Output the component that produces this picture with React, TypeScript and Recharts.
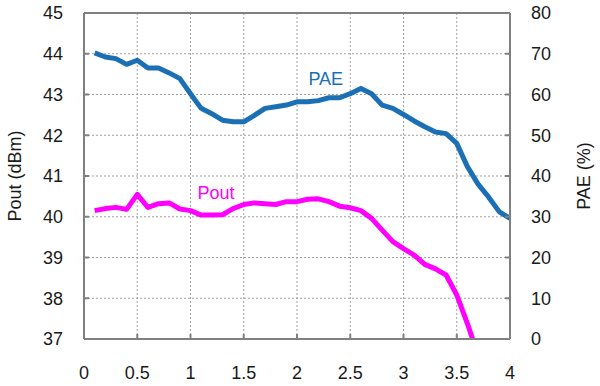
import React from 'react'
import { LineChart, Line, XAxis, YAxis, ReferenceDot } from 'recharts'

// input power steps (x axis)
const xValues = [
  0.1, 0.2, 0.3, 0.4, 0.5, 0.6, 0.7, 0.8, 0.9, 1.0,
  1.1, 1.2, 1.3, 1.4, 1.5, 1.6, 1.7, 1.8, 1.9, 2.0,
  2.1, 2.2, 2.3, 2.4, 2.5, 2.6, 2.7, 2.8, 2.9, 3.0,
  3.1, 3.2, 3.3, 3.4, 3.5, 3.6, 3.7, 3.8, 3.9, 4.0,
]

const poutValues = [
  40.15, 40.2, 40.23, 40.18, 40.55, 40.23, 40.32, 40.34, 40.19, 40.15,
  40.04, 40.04, 40.05, 40.2, 40.3, 40.34, 40.32, 40.3, 40.37, 40.37,
  40.43, 40.44, 40.37, 40.26, 40.22, 40.15, 39.96, 39.67, 39.39, 39.22,
  39.06, 38.83, 38.72, 38.57, 38.08, 37.38, 36.6,
]

const paeValues = [
  70.2, 69.2, 68.8, 67.4, 68.4, 66.5, 66.5, 65.3, 63.9, 60.2,
  56.6, 55.3, 53.7, 53.3, 53.3, 54.9, 56.6, 57.0, 57.4, 58.2,
  58.2, 58.5, 59.2, 59.2, 60.2, 61.5, 60.2, 57.4, 56.6, 55.1,
  53.5, 52.1, 50.8, 50.4, 48.0, 42.3, 38.0, 34.8, 31.2, 29.6,
]

const xTicks = [0, 0.5, 1, 1.5, 2, 2.5, 3, 3.5, 4]
const poutTicks = [37, 38, 39, 40, 41, 42, 43, 44, 45]
const paeTicks = [0, 10, 20, 30, 40, 50, 60, 70, 80]

const data = xValues.map((x, i) => ({
  x,
  pout: poutValues[i],
  pae: paeValues[i],
}))

const FONT = '"Liberation Sans", Arial, sans-serif'
const AXIS = '#808080'
const GRID = '#a0a0a0'
const BLUE = '#1a6fb5'
const MAGENTA = '#ff00ff'
const TEXT = '#1a1a1a'

// layout
const W = 600
const H = 386
const TOP = 13
const LEFT_W = 84
const RIGHT_W = 90
const BOTTOM_H = 47
const PLOT_W = W - LEFT_W - RIGHT_W
const PLOT_H = H - TOP - BOTTOM_H
const GAP = 21

// grid positions (plot frame is fixed, domains are [0,4] and [37,45])
const gridX = (v: number) => LEFT_W + (v - xTicks[0]) / (xTicks[xTicks.length - 1] - xTicks[0]) * PLOT_W
const gridY = (v: number) => TOP + (poutTicks[poutTicks.length - 1] - v) / (poutTicks[poutTicks.length - 1] - poutTicks[0]) * PLOT_H

const XTick = (props: any) => {
  const { x, y, payload } = props
  const axisY = y - GAP
  return (
    <g>
      <path d={`M${x},${axisY}V${axisY - 5}`} stroke={AXIS} strokeWidth={2} fill="none" />
      <text x={x} y={axisY + 27} dy="0.71em" textAnchor="middle" fill={TEXT} fontSize={18} fontFamily={FONT}>
        {payload.value}
      </text>
    </g>
  )
}

const LeftTick = (props: any) => {
  const { x, y, payload } = props
  const axisX = x + GAP
  return (
    <g>
      <path d={`M${axisX},${y}H${axisX + 5}`} stroke={AXIS} strokeWidth={2} fill="none" />
      <text x={x} y={y} dy="0.355em" textAnchor="end" fill={TEXT} fontSize={18} fontFamily={FONT}>
        {payload.value}
      </text>
    </g>
  )
}

const RightTick = (props: any) => {
  const { x, y, payload } = props
  const axisX = x - GAP
  return (
    <g>
      <path d={`M${axisX},${y}H${axisX - 5}`} stroke={AXIS} strokeWidth={2} fill="none" />
      <text x={x} y={y} dy="0.355em" textAnchor="start" fill={TEXT} fontSize={18} fontFamily={FONT}>
        {payload.value}
      </text>
    </g>
  )
}

const App = () => {
  return (
    <div style={{ position: 'absolute', left: 0, top: 0, width: W, height: H, background: '#fff' }}>
      <LineChart width={W} height={H} data={data} margin={{ top: TOP, right: 0, left: 0, bottom: 0 }}>
        <g className="grid">
          {xTicks.slice(1, -1).map(t => (
            <line key={'gx' + t} x1={gridX(t)} x2={gridX(t)} y1={TOP} y2={TOP + PLOT_H}
              stroke={GRID} strokeWidth={1} strokeDasharray="2 2" />
          ))}
          {poutTicks.slice(1, -1).map(t => (
            <line key={'gy' + t} x1={LEFT_W} x2={LEFT_W + PLOT_W} y1={gridY(t)} y2={gridY(t)}
              stroke={GRID} strokeWidth={1} strokeDasharray="2 2" />
          ))}
          <line x1={LEFT_W} x2={LEFT_W + PLOT_W} y1={TOP} y2={TOP} stroke={AXIS} strokeWidth={2} />
        </g>
        <XAxis
          dataKey="x"
          type="number"
          domain={[0, 4]}
          ticks={xTicks}
          height={BOTTOM_H}
          stroke={AXIS}
          strokeWidth={2}
          tickLine={false}
          tickSize={0}
          tickMargin={GAP}
          tick={XTick}
          interval={0}
        />
        <YAxis
          yAxisId="left"
          orientation="left"
          domain={[37, 45]}
          ticks={poutTicks}
          allowDataOverflow
          width={LEFT_W}
          stroke={AXIS}
          strokeWidth={2}
          tickLine={false}
          tickSize={0}
          tickMargin={GAP}
          tick={LeftTick}
          interval={0}
        />
        <YAxis
          yAxisId="right"
          orientation="right"
          domain={[0, 80]}
          ticks={paeTicks}
          allowDataOverflow
          width={RIGHT_W}
          stroke={AXIS}
          strokeWidth={2}
          tickLine={false}
          tickSize={0}
          tickMargin={GAP}
          tick={RightTick}
          interval={0}
        />

        <Line
          yAxisId="right"
          type="linear"
          dataKey="pae"
          stroke={BLUE}
          strokeWidth={5}
          strokeLinejoin="round"
          dot={false}
          isAnimationActive={false}
        />
        <Line
          yAxisId="left"
          type="linear"
          dataKey="pout"
          stroke={MAGENTA}
          strokeWidth={5}
          strokeLinejoin="round"
          dot={false}
          isAnimationActive={false}
        />

        <ReferenceDot
          yAxisId="right"
          x={2.27}
          y={64}
          r={0}
          label={{ value: 'PAE', position: 'center', fill: BLUE, fontSize: 18, fontFamily: FONT }}
        />
        <ReferenceDot
          yAxisId="left"
          x={1.24}
          y={40.6}
          r={0}
          label={{ value: 'Pout', position: 'center', fill: MAGENTA, fontSize: 18, fontFamily: FONT }}
        />

        <text x={15} y={176} transform="rotate(-90 15 176)" textAnchor="middle" dominantBaseline="central"
          fontSize={18} fontFamily={FONT} fill={TEXT}>Pout (dBm)</text>
        <text x={584} y={176} transform="rotate(-90 584 176)" textAnchor="middle" dominantBaseline="central"
          fontSize={18} fontFamily={FONT} fill={TEXT}>PAE (%)</text>
      </LineChart>
    </div>
  )
}

export default App
